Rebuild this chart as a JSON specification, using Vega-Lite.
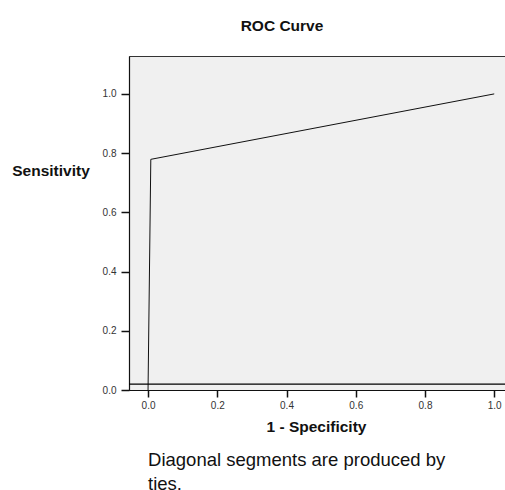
{
  "$schema": "https://vega.github.io/schema/vega-lite/v6.json",
  "autosize": {"type": "none"},
  "padding": {"left": 129, "top": 56, "right": 0, "bottom": 100},
  "width": 386,
  "height": 334,
  "title": {
    "text": "ROC Curve",
    "fontSize": 15.5,
    "fontWeight": "bold",
    "color": "#111",
    "anchor": "middle",
    "dx": -40,
    "offset": 10,
    "baseline": "alphabetic"
  },
  "config": {
    "font": "Liberation Sans",
    "view": {"fill": "#f0f0f0", "stroke": "#333", "strokeWidth": 1},
    "axis": {
      "grid": false,
      "domain": true,
      "domainColor": "#111",
      "domainWidth": 1.2,
      "ticks": true,
      "tickColor": "#111",
      "tickWidth": 1.5,
      "tickOpacity": 1,
      "labelColor": "#333",
      "labelFontSize": 10,
      "titleColor": "#111",
      "titleFontSize": 15.5,
      "titleFontWeight": "bold"
    }
  },
  "layer": [
    {
      "data": {"values": [
        {"fpr": 0.0, "sens": 0.0},
        {"fpr": 0.008, "sens": 0.779},
        {"fpr": 1.0, "sens": 1.0}
      ]},
      "mark": {"type": "line", "color": "#111", "strokeWidth": 1},
      "encoding": {
        "x": {
          "field": "fpr", "type": "quantitative",
          "scale": {"domain": [-0.055, 1.06], "nice": false, "zero": false},
          "axis": {
            "title": "1 - Specificity",
            "values": [0, 0.2, 0.4, 0.6, 0.8, 1.0],
            "format": ".1f",
            "ticks": true,
            "tickColor": "#111",
            "tickSize": 7,
            "tickWidth": 1.5,
            "labelPadding": 3,
            "titleX": 187,
            "titleY": 41,
            "titleBaseline": "alphabetic",
            "titleAnchor": "middle",
            "titleAlign": "center"
          }
        },
        "y": {
          "field": "sens", "type": "quantitative",
          "scale": {"domain": [0, 1.128], "nice": false},
          "axis": {
            "title": "Sensitivity",
            "values": [0, 0.2, 0.4, 0.6, 0.8, 1.0],
            "format": ".1f",
            "ticks": true,
            "tickColor": "#111",
            "tickSize": 8,
            "tickWidth": 1.5,
            "labelPadding": 5,
            "titleAngle": 0,
            "titleX": -78.5,
            "titleY": 114,
            "titleAlign": "center",
            "titleBaseline": "middle"
          }
        }
      }
    },
    {
      "data": {"values": [{"ref": 0.02}]},
      "mark": {"type": "rule", "color": "#000", "strokeWidth": 1.2},
      "encoding": {
        "y": {"field": "ref", "type": "quantitative"}
      }
    },
    {
      "data": {"values": [{"note": "Diagonal segments are produced by\nties."}]},
      "mark": {"type": "text", "align": "left", "baseline": "alphabetic", "fontSize": 18.5, "color": "#111", "lineBreak": "\n", "lineHeight": 24},
      "encoding": {
        "x": {"datum": 0, "type": "quantitative"},
        "y": {"datum": -0.258, "type": "quantitative"},
        "text": {"field": "note"}
      }
    }
  ]
}
